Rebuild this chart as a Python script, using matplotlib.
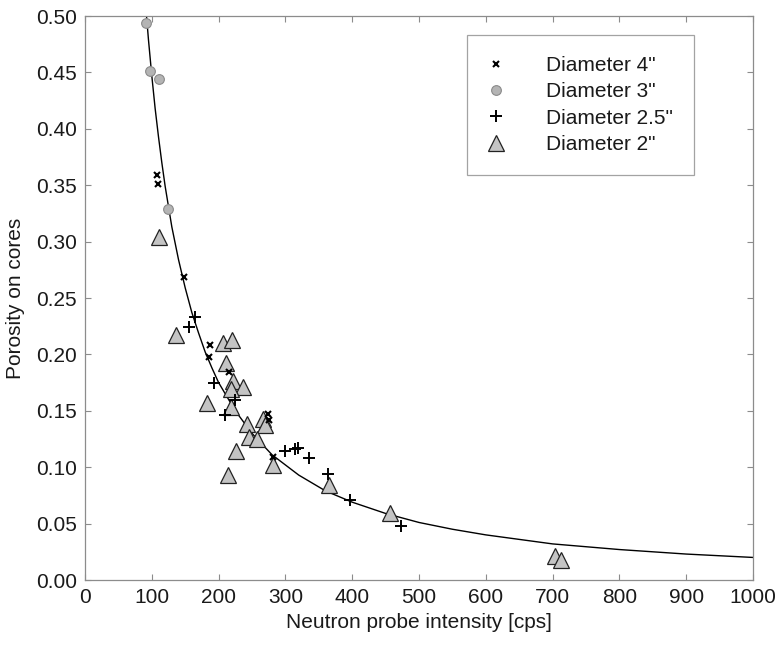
import matplotlib
matplotlib.use("Agg")
import matplotlib.pyplot as plt

plt.rcParams["font.family"] = ["Liberation Sans", "DejaVu Sans"]

# ---------- data ----------
# fitted curve (cps, porosity)
curve_x = [90, 95, 100, 105, 110, 115, 120, 125, 130, 140, 150, 160, 170,
           180, 190, 200, 225, 250, 280, 320, 360, 400, 450, 500, 550, 600,
           700, 800, 900, 1000]
curve_y = [0.515, 0.479, 0.447, 0.418, 0.393, 0.370, 0.349, 0.331, 0.313,
           0.284, 0.259, 0.237, 0.219, 0.202, 0.188, 0.175, 0.150, 0.130,
           0.111, 0.093, 0.079, 0.069, 0.059, 0.051, 0.045, 0.040, 0.032,
           0.027, 0.023, 0.020]

# Diameter 4"
d4_x = [108, 110, 148, 187, 185, 216, 274, 275, 281]
d4_y = [0.359, 0.351, 0.269, 0.208, 0.198, 0.184, 0.147, 0.142, 0.109]

# Diameter 3"
d3_x = [92, 97, 111, 124]
d3_y = [0.494, 0.451, 0.444, 0.329]

# Diameter 2.5"
d25_x = [164, 156, 193, 225, 210, 299, 314, 319, 336, 364, 396, 473]
d25_y = [0.233, 0.224, 0.175, 0.160, 0.146, 0.114, 0.116, 0.117, 0.108,
         0.094, 0.071, 0.048]

# Diameter 2"
d2_x = [111, 136, 206, 220, 211, 222, 236, 219, 183, 218, 266, 269, 242,
        245, 258, 226, 281, 214, 365, 456, 703, 713]
d2_y = [0.304, 0.217, 0.210, 0.213, 0.192, 0.176, 0.171, 0.169, 0.157,
        0.153, 0.143, 0.137, 0.138, 0.127, 0.125, 0.114, 0.102, 0.093,
        0.084, 0.059, 0.021, 0.018]

fig = plt.figure(figsize=(7.75, 6.45), dpi=100)
ax = fig.add_axes([85 / 775, 1 - 580 / 645, 668 / 775, 564 / 645])

ax.plot(curve_x, curve_y, color="black", lw=1.0, zorder=2)

ax.plot(d4_x, d4_y, "x", ls="none", ms=4.5, mew=1.5, color="black",
        label='Diameter 4"', zorder=4)
ax.plot(d3_x, d3_y, "o", ls="none", ms=7, mfc="#b4b4b4", mec="#8a8a8a",
        mew=0.8, label='Diameter 3"', zorder=3)
ax.plot(d25_x, d25_y, "+", ls="none", ms=9, mew=1.4, color="black",
        label='Diameter 2.5"', zorder=4)
ax.plot(d2_x, d2_y, "^", ls="none", ms=11.5, mfc="#c4c4c4", mec="#222222",
        mew=0.9, label='Diameter 2"', zorder=3)

ax.set_xlim(0, 1000)
ax.set_ylim(0, 0.5)
ax.set_xticks(range(0, 1001, 100))
ax.set_yticks([i * 0.05 for i in range(11)])
ax.set_yticklabels([f"{i * 0.05:.2f}" for i in range(11)])

for s in ax.spines.values():
    s.set_color("#8c8c8c")
    s.set_linewidth(0.9)
ax.tick_params(direction="in", length=4, width=0.8, color="#8c8c8c",
               labelsize=15, labelcolor="#1a1a1a", top=True, right=True, pad=6)

ax.set_xlabel("Neutron probe intensity [cps]", fontsize=15, color="#1a1a1a",
              labelpad=4)
ax.set_ylabel("Porosity on cores", fontsize=15, color="#1a1a1a", labelpad=8)

leg = ax.legend(loc="upper left", bbox_to_anchor=(0.572, 0.966),
                fontsize=15, frameon=True, fancybox=False, borderpad=1.0,
                labelspacing=0.35, handlelength=0.8, handletextpad=2.0,
                borderaxespad=0)
leg.get_frame().set_edgecolor("#8c8c8c")
leg.get_frame().set_linewidth(0.9)
for t in leg.get_texts():
    t.set_color("#1a1a1a")

fig.savefig("out.png", dpi=100)
